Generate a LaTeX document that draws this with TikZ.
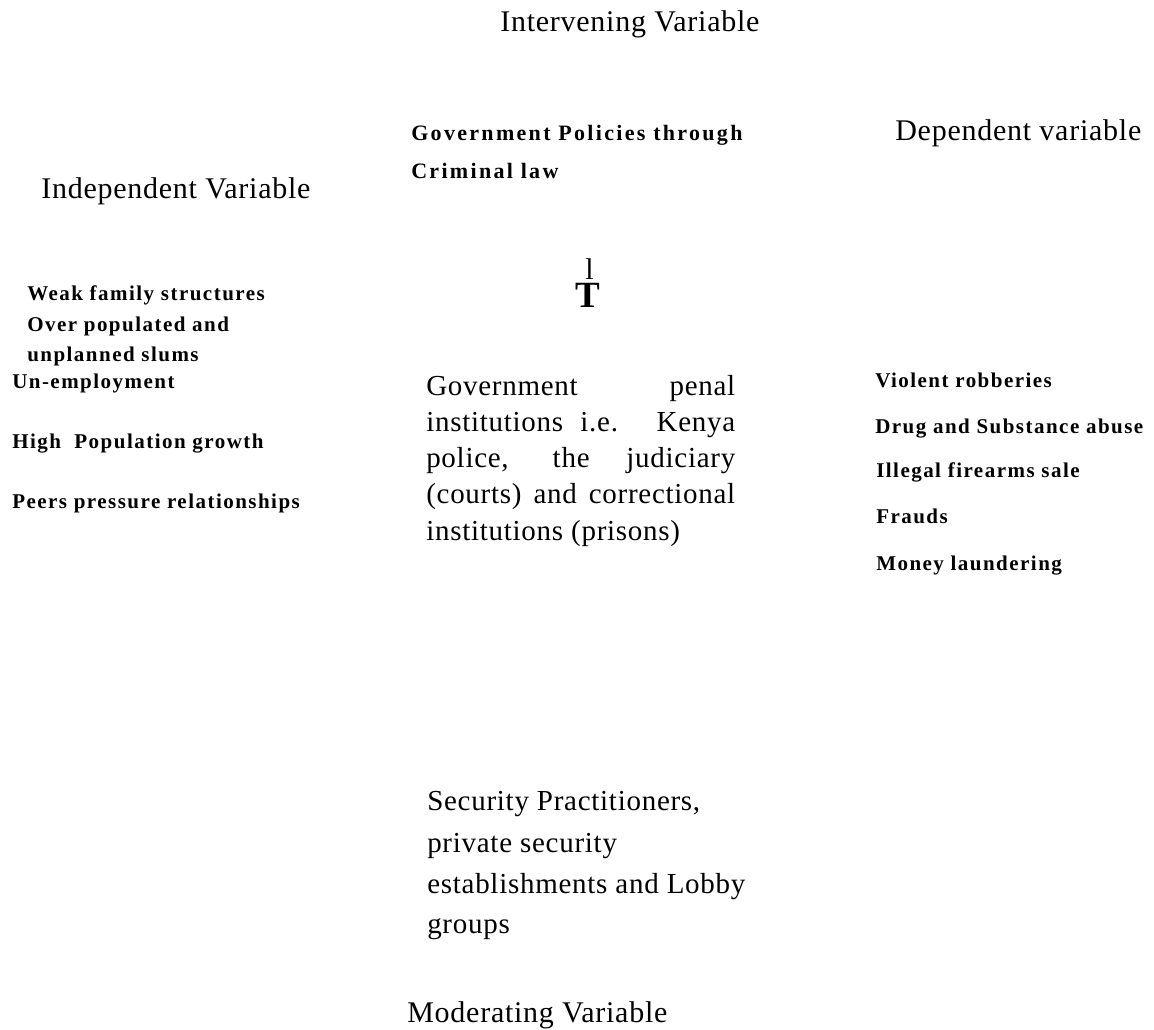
\documentclass[tikz,border=0pt]{standalone}
\usepackage{fontspec}
\setmainfont{Liberation Serif}
\newfontfamily\hdfont[LetterSpace=2.5]{Liberation Serif}
\newfontfamily\blfont[LetterSpace=7]{Liberation Serif}
\newfontfamily\gpfont[LetterSpace=10.5]{Liberation Serif}
\newfontfamily\pfont[LetterSpace=2.5]{Liberation Serif}
\tikzset{
  head/.style={anchor=base west, inner sep=0pt, font=\hdfont\fontsize{22.5}{27}\selectfont},
  item/.style={anchor=base west, inner sep=0pt, font=\blfont\bfseries\fontsize{15.75}{19}\selectfont},
  gov/.style={anchor=base west, inner sep=0pt, font=\gpfont\bfseries\fontsize{16.5}{20}\selectfont},
  para/.style={anchor=base west, inner sep=0pt, font=\pfont\fontsize{21.75}{27}\selectfont},
}
\newcommand{\jline}[1]{\makebox[231.75pt][s]{#1}}
\begin{document}
\begin{tikzpicture}[x=0.75pt,y=-0.75pt]
\useasboundingbox (0,0) rectangle (1154,1029);
% headings
\node[head] (iv) at (500,31) {Intervening Variable};
\node[head] (dv) at (895,140) {Dependent variable};
\node[head] (idv) at (41,198) {Independent Variable};
\node[head] (mv) at (407,1022) {Moderating Variable};
% intervening
\node[gov] (gp1) at (411,140) {Government Policies through};
\node[gov] (gp2) at (411,178) {Criminal law};
\node[anchor=base, inner sep=0pt, font=\fontsize{22.5}{27}\selectfont] (lmark) at (589.5,279) {l};
\node[anchor=base, inner sep=0pt, font=\bfseries\fontsize{27.75}{32}\selectfont] (tmark) at (587.5,307) {T};
% independent list
\node[item] (i1) at (27,300) {Weak family structures};
\node[item] (i2) at (27,331) {Over populated and};
\node[item] (i3) at (27,361) {unplanned slums};
\node[item] (i4) at (12,388) {Un-employment};
\node[item] (i5) at (12,448) {High~ Population growth};
\node[item] (i6) at (12,508) {Peers pressure relationships};
% penal institutions paragraph
\node[para] (p1) at (426,395) {\jline{Government penal}};
\node[para] (p2) at (426,431.3) {\jline{institutions i.e. Kenya}};
\node[para] (p3) at (426,467.6) {\jline{police, the judiciary}};
\node[para] (p4) at (426,503.9) {\jline{(courts) and correctional}};
\node[para] (p5) at (426,540.2) {institutions (prisons)};
% dependent list
\node[item] (d1) at (875,387) {Violent robberies};
\node[item] (d2) at (875,433) {Drug and Substance abuse};
\node[item] (d3) at (876,477) {Illegal firearms sale};
\node[item] (d4) at (876,523) {Frauds};
\node[item] (d5) at (876,570) {Money laundering};
% moderating
\node[para] (s1) at (427,810) {Security Practitioners,};
\node[para] (s2) at (427,852) {private security};
\node[para] (s3) at (427,893) {establishments and Lobby};
\node[para] (s4) at (427,933) {groups};
\end{tikzpicture}
\end{document}
